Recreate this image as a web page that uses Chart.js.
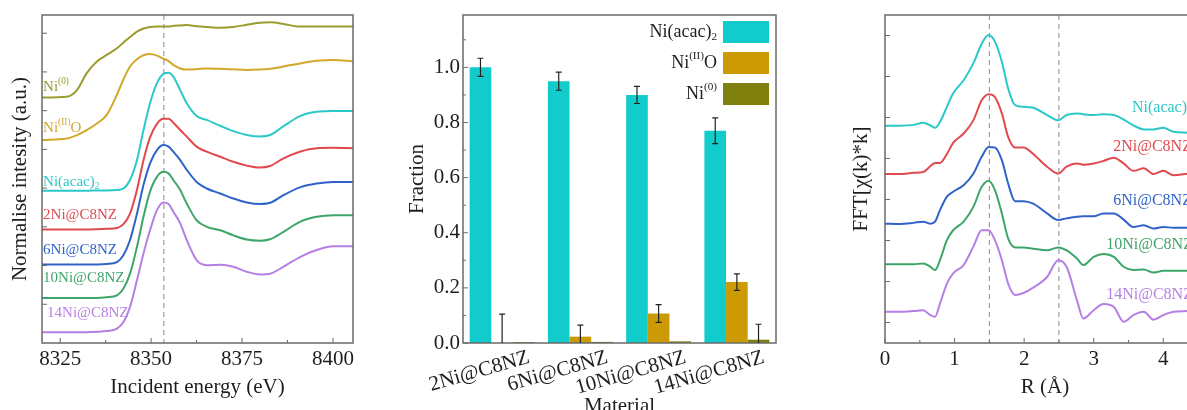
<!DOCTYPE html>
<html lang="en">
<head>
  <meta charset="UTF-8" />
  <title>Ni K-edge XANES, LCF fractions and EXAFS</title>
  <script src="https://cdn.jsdelivr.net/npm/chart.js"></script>
  <style>
    body { margin: 0; width: 1187px; height: 410px; overflow: hidden; background: #fff; position: relative; }
    canvas { position: absolute; top: 0; }
  </style>
</head>
<body>
  <canvas id="xanes" width="400" height="410" style="left:0"></canvas>
  <canvas id="lcf" width="400" height="410" style="left:400px"></canvas>
  <canvas id="exafs" width="430" height="410" style="left:800px"></canvas>

  <script>
    const FONT = '"Liberation Serif", "Times New Roman", serif';
    const INK = '#1e1e1e';

    // ---- XANES spectra (normalised, stacked with offsets) ----
    const xanesEnergy = [8320.0, 8326.8, 8329.6, 8332.3, 8335.1, 8337.8, 8340.6, 8342.4, 8344.2, 8346.1,
                         8347.9, 8349.7, 8351.6, 8353.4, 8354.8, 8356.1, 8358.0, 8359.8, 8362.5, 8365.3,
                         8369.0, 8372.6, 8376.3, 8379.9, 8382.7, 8386.4, 8390.9, 8395.5, 8400.1, 8405.6];
    const xanesNi0  = [6.34, 6.36, 6.53, 6.97, 7.27, 7.44, 7.61, 7.76, 7.90, 8.04, 8.12, 8.16, 8.17, 8.17, 8.17,
                       8.19, 8.20, 8.21, 8.18, 8.16, 8.14, 8.16, 8.22, 8.27, 8.28, 8.24, 8.17, 8.17, 8.17, 8.17];
    const xanesNiO  = [5.24, 5.28, 5.37, 5.50, 5.67, 5.89, 6.41, 6.81, 7.14, 7.33, 7.43, 7.46, 7.42, 7.34, 7.28,
                       7.18, 7.09, 7.06, 7.07, 7.09, 7.08, 7.07, 7.05, 7.06, 7.08, 7.14, 7.22, 7.29, 7.31, 7.27];
    const xanesAcac = [3.93, 3.93, 3.93, 3.93, 3.94, 3.94, 3.95, 3.99, 4.21, 4.72, 5.50, 6.19, 6.71, 6.95, 6.98,
                       6.88, 6.53, 6.19, 5.86, 5.76, 5.61, 5.47, 5.37, 5.33, 5.37, 5.60, 5.86, 5.97, 5.99, 5.99];
    const xanes2Ni  = [2.93, 2.93, 2.93, 2.93, 2.94, 2.95, 2.97, 3.07, 3.34, 3.95, 4.72, 5.31, 5.66, 5.79, 5.79,
                       5.69, 5.50, 5.33, 5.07, 4.94, 4.81, 4.68, 4.58, 4.53, 4.57, 4.77, 4.94, 5.03, 5.04, 5.03];
    const xanes6Ni  = [2.03, 2.03, 2.03, 2.03, 2.03, 2.04, 2.09, 2.27, 2.66, 3.34, 4.08, 4.64, 4.98, 5.11, 5.07,
                       4.94, 4.72, 4.47, 4.16, 3.99, 3.86, 3.73, 3.63, 3.59, 3.62, 3.82, 4.02, 4.12, 4.16, 4.16];
    const xanes10Ni = [1.16, 1.16, 1.16, 1.16, 1.16, 1.18, 1.23, 1.41, 1.79, 2.48, 3.26, 3.91, 4.29, 4.42, 4.38,
                       4.21, 3.95, 3.60, 3.17, 3.00, 2.91, 2.78, 2.67, 2.64, 2.68, 2.87, 3.13, 3.26, 3.30, 3.30];
    const xanes14Ni = [0.28, 0.28, 0.28, 0.28, 0.29, 0.31, 0.37, 0.54, 0.93, 1.62, 2.31, 2.91, 3.43, 3.63, 3.59,
                       3.39, 3.09, 2.66, 2.14, 2.01, 2.02, 1.97, 1.84, 1.77, 1.79, 1.97, 2.22, 2.40, 2.50, 2.50];
    const xanesTicks = [8325, 8350, 8375, 8400];
    const edgeLine = [8353.5];

    // ---- linear combination fit fractions ----
    const materials = ['2Ni@C8NZ', '6Ni@C8NZ', '10Ni@C8NZ', '14Ni@C8NZ'];
    const fracAcac = [1.00, 0.95, 0.90, 0.77];
    const errAcac  = [0.033, 0.033, 0.031, 0.047];
    const fracNiO  = [0.000, 0.023, 0.107, 0.221];
    const errNiO   = [0.105, 0.042, 0.032, 0.030];
    const fracNi0  = [0.003, 0.004, 0.006, 0.012];
    const errNi0   = [0, 0, 0, 0.056];
    const fracTicks = [0, 0.2, 0.4, 0.6, 0.8, 1.0];

    // ---- EXAFS Fourier transforms (stacked) ----
    const exafsR = [0, 0.22, 0.41, 0.55, 0.65, 0.72, 0.79, 0.89, 0.98, 1.13, 1.27, 1.39, 1.49, 1.58, 1.68, 1.77, 1.87,
                    1.99, 2.13, 2.33, 2.49, 2.61, 2.76, 2.85, 3.00, 3.14, 3.29, 3.43, 3.57, 3.72, 3.86, 4.00, 4.15, 4.35];
    const ftAcac = [4.80, 4.80, 4.82, 4.87, 4.81, 4.75, 4.89, 5.26, 5.59, 5.91, 6.32, 6.80, 7.01, 6.85, 6.36, 5.71, 5.30,
                    5.26, 5.24, 5.06, 4.93, 5.06, 5.10, 5.08, 5.06, 5.08, 5.06, 4.95, 4.81, 4.71, 4.71, 4.75, 4.65, 4.63];
    const ft2Ni  = [3.62, 3.62, 3.65, 3.67, 3.81, 3.89, 3.89, 4.11, 4.38, 4.61, 4.93, 5.42, 5.57, 5.50, 5.10, 4.53, 4.27,
                    4.27, 4.11, 3.80, 3.63, 3.80, 3.88, 3.85, 3.88, 3.94, 4.02, 3.88, 3.70, 3.76, 3.62, 3.70, 3.59, 3.63];
    const ft6Ni  = [2.41, 2.40, 2.43, 2.46, 2.41, 2.46, 2.74, 3.07, 3.19, 3.35, 3.63, 4.04, 4.28, 4.27, 3.96, 3.39, 2.96,
                    2.96, 2.90, 2.66, 2.50, 2.54, 2.58, 2.59, 2.59, 2.66, 2.66, 2.51, 2.33, 2.37, 2.29, 2.33, 2.31, 2.31];
    const ft10Ni = [1.42, 1.42, 1.42, 1.44, 1.36, 1.28, 1.52, 2.01, 2.25, 2.46, 2.82, 3.31, 3.46, 3.23, 2.66, 2.05, 1.83,
                    1.83, 1.80, 1.76, 1.83, 1.76, 1.56, 1.40, 1.60, 1.67, 1.60, 1.36, 1.28, 1.29, 1.22, 1.26, 1.26, 1.26];
    const ft14Ni = [0.26, 0.26, 0.28, 0.30, 0.18, 0.14, 0.46, 0.95, 1.20, 1.40, 1.85, 2.25, 2.25, 2.01, 1.52, 0.95, 0.67,
                    0.72, 0.85, 1.11, 1.52, 1.36, 0.54, 0.10, 0.30, 0.45, 0.38, 0.02, 0.18, 0.26, 0.07, 0.18, 0.26, 0.28];
    const rTicks = [0, 1, 2, 3, 4];
    const shellLines = [1.5, 2.5];

    const C = {
      ni0: '#9b9b2f', nio: '#d2a72a', acac: '#2cc8c8',
      n2: '#e04a4e', n6: '#2f63c9', n10: '#3ea56a', n14: '#b67fe4'
    };
    const BAR = { acac: '#12cbcb', nio: '#cc9a05', ni0: '#80800e' };

    // text with super/subscript pieces: [['Ni'], ['(II)', 'sup'], ['O']]
    function richText(ctx, parts, x, y, size, color, align) {
      const segs = parts.map(p => {
        const s = p[1] ? size * 0.62 : size;
        ctx.font = s + 'px ' + FONT;
        const dy = p[1] === 'sup' ? -size * 0.36 : p[1] === 'sub' ? size * 0.3 : 0;
        return { t: p[0], s, dy, w: ctx.measureText(p[0]).width };
      });
      const total = segs.reduce((a, g) => a + g.w, 0);
      let cx = align === 'right' ? x - total : x;
      ctx.fillStyle = color;
      ctx.textAlign = 'left';
      ctx.textBaseline = 'middle';
      segs.forEach(g => {
        ctx.font = g.s + 'px ' + FONT;
        ctx.fillText(g.t, cx, y + g.dy);
        cx += g.w;
      });
    }

    const framePlugin = {
      id: 'frame',
      afterDatasetsDraw(chart, args, o) {
        const { ctx, chartArea: a } = chart;
        const x = chart.scales.x, y = chart.scales.y;
        ctx.save();
        ctx.strokeStyle = '#6a6a6a';
        ctx.lineWidth = 1;
        ctx.beginPath();
        (o.xMajor || []).forEach(v => { const p = x.getPixelForValue(v); ctx.moveTo(p, a.bottom); ctx.lineTo(p, a.bottom - 5); });
        (o.xMinor || []).forEach(v => { const p = x.getPixelForValue(v); ctx.moveTo(p, a.bottom); ctx.lineTo(p, a.bottom - 3); });
        (o.yMajor || []).forEach(v => { const p = y.getPixelForValue(v); ctx.moveTo(a.left, p); ctx.lineTo(a.left + 5, p); });
        (o.yMinor || []).forEach(v => { const p = y.getPixelForValue(v); ctx.moveTo(a.left, p); ctx.lineTo(a.left + 3, p); });
        ctx.stroke();
        ctx.lineWidth = 1.5;
        ctx.strokeRect(a.left, a.top, a.right - a.left, a.bottom - a.top);
        ctx.restore();
      }
    };

    const guidePlugin = {
      id: 'guides',
      beforeDatasetsDraw(chart, args, o) {
        if (!o.at) return;
        const { ctx, chartArea: a } = chart;
        ctx.save();
        ctx.strokeStyle = '#8a8a8a';
        ctx.lineWidth = 1;
        ctx.setLineDash([5, 4]);
        o.at.forEach(v => {
          const p = chart.scales.x.getPixelForValue(v);
          ctx.beginPath(); ctx.moveTo(p, a.top); ctx.lineTo(p, a.bottom); ctx.stroke();
        });
        ctx.restore();
      }
    };

    const tagPlugin = {
      id: 'tags',
      afterDatasetsDraw(chart, args, o) {
        if (!o.items) return;
        const { ctx } = chart;
        ctx.save();
        o.items.forEach(t => {
          richText(ctx, t.parts, chart.scales.x.getPixelForValue(t.x), chart.scales.y.getPixelForValue(t.y),
                   o.size, t.color, 'left');
        });
        ctx.restore();
      }
    };

    const errorPlugin = {
      id: 'errorBars',
      afterDatasetsDraw(chart, args, o) {
        const { ctx, chartArea: a } = chart;
        const y = chart.scales.y;
        ctx.save();
        ctx.strokeStyle = '#222';
        ctx.lineWidth = 1.2;
        chart.data.datasets.forEach((ds, d) => {
          const meta = chart.getDatasetMeta(d);
          ds.data.forEach((v, i) => {
            const e = o.errors[d][i];
            if (!e) return;
            const x = meta.data[i].x;
            const top = y.getPixelForValue(v + e);
            const low = v - e;
            const bot = Math.min(y.getPixelForValue(low), a.bottom);
            ctx.beginPath();
            ctx.moveTo(x, top); ctx.lineTo(x, bot);
            ctx.moveTo(x - 3, top); ctx.lineTo(x + 3, top);
            if (low > 0) { ctx.moveTo(x - 3, bot); ctx.lineTo(x + 3, bot); }
            ctx.stroke();
          });
        });
        ctx.restore();
      }
    };

    const keyPlugin = {
      id: 'key',
      afterDraw(chart, args, o) {
        const { ctx, chartArea: a } = chart;
        ctx.save();
        o.items.forEach((it, i) => {
          const top = a.top + 6 + i * 31;
          const left = a.right - 53;
          ctx.fillStyle = it.color;
          ctx.fillRect(left, top, 46, 22);
          richText(ctx, it.parts, left - 6, top + 11, 18, INK, 'right');
        });
        ctx.restore();
      }
    };

    function curve(xs, ys, color) {
      return {
        data: xs.map((x, i) => ({ x, y: ys[i] })),
        borderColor: color, borderWidth: 2, pointRadius: 0,
        cubicInterpolationMode: 'monotone', fill: false
      };
    }

    function axisTitle(text, pad) {
      return { display: true, text, color: INK, font: { family: FONT, size: 21 }, padding: pad };
    }

    const tickFont = { family: FONT, size: 21 };
    const noGrid = { display: false };
    const noBorder = { display: false };
    const quiet = { legend: { display: false }, tooltip: { enabled: false } };
    // keep the bottom axis exactly 67px tall and stop rotated labels from widening the layout
    const bottomFit = s => { s.height = 67; s.paddingLeft = 0; s.paddingRight = 0; };

    // left panel: XANES
    new Chart(document.getElementById('xanes'), {
      type: 'line',
      data: {
        datasets: [
          curve(xanesEnergy, xanesNi0, C.ni0), curve(xanesEnergy, xanesNiO, C.nio),
          curve(xanesEnergy, xanesAcac, C.acac), curve(xanesEnergy, xanes2Ni, C.n2),
          curve(xanesEnergy, xanes6Ni, C.n6), curve(xanesEnergy, xanes10Ni, C.n10),
          curve(xanesEnergy, xanes14Ni, C.n14)
        ]
      },
      options: {
        responsive: false, animation: false,
        layout: { padding: { top: 15, right: 47, left: 0, bottom: 0 } },
        plugins: {
          ...quiet,
          frame: { xMajor: xanesTicks, xMinor: [8337.5, 8362.5, 8387.5], yMajor: [1, 2, 3, 4, 5, 6, 7, 8] },
          guides: { at: edgeLine },
          tags: {
            size: 15,
            items: [
              { parts: [['Ni'], ['(0)', 'sup']], x: 8320.3, y: 6.62, color: C.ni0 },
              { parts: [['Ni'], ['(II)', 'sup'], ['O']], x: 8320.3, y: 5.56, color: C.nio },
              { parts: [['Ni(acac)'], ['2', 'sub']], x: 8320.3, y: 4.15, color: C.acac },
              { parts: [['2Ni@C8NZ']], x: 8320.3, y: 3.30, color: C.n2 },
              { parts: [['6Ni@C8NZ']], x: 8320.3, y: 2.40, color: C.n6 },
              { parts: [['10Ni@C8NZ']], x: 8320.3, y: 1.67, color: C.n10 },
              { parts: [['14Ni@C8NZ']], x: 8321.4, y: 0.77, color: C.n14 }
            ]
          }
        },
        scales: {
          x: {
            type: 'linear', min: 8320, max: 8405.5,
            afterBuildTicks: s => { s.ticks = xanesTicks.map(v => ({ value: v })); },
            afterFit: bottomFit,
            grid: noGrid, border: noBorder,
            ticks: { font: tickFont, color: INK, padding: -4, maxRotation: 0, autoSkip: false, callback: v => String(v) },
            title: axisTitle('Incident energy (eV)', { top: 0, bottom: 10 })
          },
          y: {
            min: 0, max: 8.47,
            afterFit: s => { s.width = 42; },
            grid: noGrid, border: noBorder,
            ticks: { display: false },
            title: axisTitle('Normalise intesity (a.u.)', { top: 8, bottom: 0 })
          }
        }
      },
      plugins: [guidePlugin, framePlugin, tagPlugin]
    });

    // middle panel: fractions from the linear combination fit
    new Chart(document.getElementById('lcf'), {
      type: 'bar',
      data: {
        labels: materials,
        datasets: [
          { data: fracAcac, backgroundColor: BAR.acac },
          { data: fracNiO, backgroundColor: BAR.nio },
          { data: fracNi0, backgroundColor: BAR.ni0 }
        ]
      },
      options: {
        responsive: false, animation: false,
        datasets: { bar: { categoryPercentage: 0.83, barPercentage: 1 } },
        layout: { padding: { top: 15, right: 24, left: 0, bottom: 0 } },
        plugins: {
          ...quiet,
          frame: { yMajor: fracTicks, yMinor: [0.1, 0.3, 0.5, 0.7, 0.9, 1.1] },
          errorBars: { errors: [errAcac, errNiO, errNi0] },
          key: {
            items: [
              { parts: [['Ni(acac)'], ['2', 'sub']], color: BAR.acac },
              { parts: [['Ni'], ['(II)', 'sup'], ['O']], color: BAR.nio },
              { parts: [['Ni'], ['(0)', 'sup']], color: BAR.ni0 }
            ]
          }
        },
        scales: {
          x: {
            afterFit: bottomFit,
            grid: noGrid, border: noBorder,
            ticks: { font: tickFont, color: INK, padding: -6, minRotation: 16, maxRotation: 16, autoSkip: false, labelOffset: 27 },
            title: axisTitle('Material', { top: 0, bottom: -9 })
          },
          y: {
            min: 0, max: 1.19,
            afterBuildTicks: s => { s.ticks = fracTicks.map(v => ({ value: v })); },
            afterFit: s => { s.width = 63; },
            grid: noGrid, border: noBorder,
            ticks: { font: tickFont, color: INK, padding: -5, callback: v => v.toFixed(1) },
            title: axisTitle('Fraction', { top: 5, bottom: 0 })
          }
        }
      },
      plugins: [framePlugin, errorPlugin, keyPlugin]
    });

    // right panel: EXAFS Fourier transforms
    new Chart(document.getElementById('exafs'), {
      type: 'line',
      data: {
        datasets: [
          curve(exafsR, ftAcac, C.acac), curve(exafsR, ft2Ni, C.n2), curve(exafsR, ft6Ni, C.n6),
          curve(exafsR, ft10Ni, C.n10), curve(exafsR, ft14Ni, C.n14)
        ]
      },
      options: {
        responsive: false, animation: false,
        layout: { padding: { top: 15, right: 25, left: 0, bottom: 0 } },
        plugins: {
          ...quiet,
          frame: { xMajor: rTicks, xMinor: [0.5, 1.5, 2.5, 3.5], yMajor: [0, 1, 2, 3, 4, 5, 6, 7] },
          guides: { at: shellLines },
          tags: {
            size: 16,
            items: [
              { parts: [['Ni(acac)'], ['2', 'sub']], x: 3.55, y: 5.23, color: C.acac },
              { parts: [['2Ni@C8NZ']], x: 3.28, y: 4.28, color: C.n2 },
              { parts: [['6Ni@C8NZ']], x: 3.28, y: 2.98, color: C.n6 },
              { parts: [['10Ni@C8NZ']], x: 3.18, y: 1.89, color: C.n10 },
              { parts: [['14Ni@C8NZ']], x: 3.18, y: 0.67, color: C.n14 }
            ]
          }
        },
        scales: {
          x: {
            type: 'linear', min: 0, max: 4.6,
            afterBuildTicks: s => { s.ticks = rTicks.map(v => ({ value: v })); },
            afterFit: bottomFit,
            grid: noGrid, border: noBorder,
            ticks: { font: tickFont, color: INK, padding: -4, maxRotation: 0, autoSkip: false },
            title: axisTitle('R (Å)', { top: 0, bottom: 10 })
          },
          y: {
            min: -0.5, max: 7.5,
            afterFit: s => { s.width = 85; },
            grid: noGrid, border: noBorder,
            ticks: { display: false },
            title: axisTitle('FFT[χ(k)*k]', { top: 49, bottom: 0 })
          }
        }
      },
      plugins: [guidePlugin, framePlugin, tagPlugin]
    });
  </script>
</body>
</html>
